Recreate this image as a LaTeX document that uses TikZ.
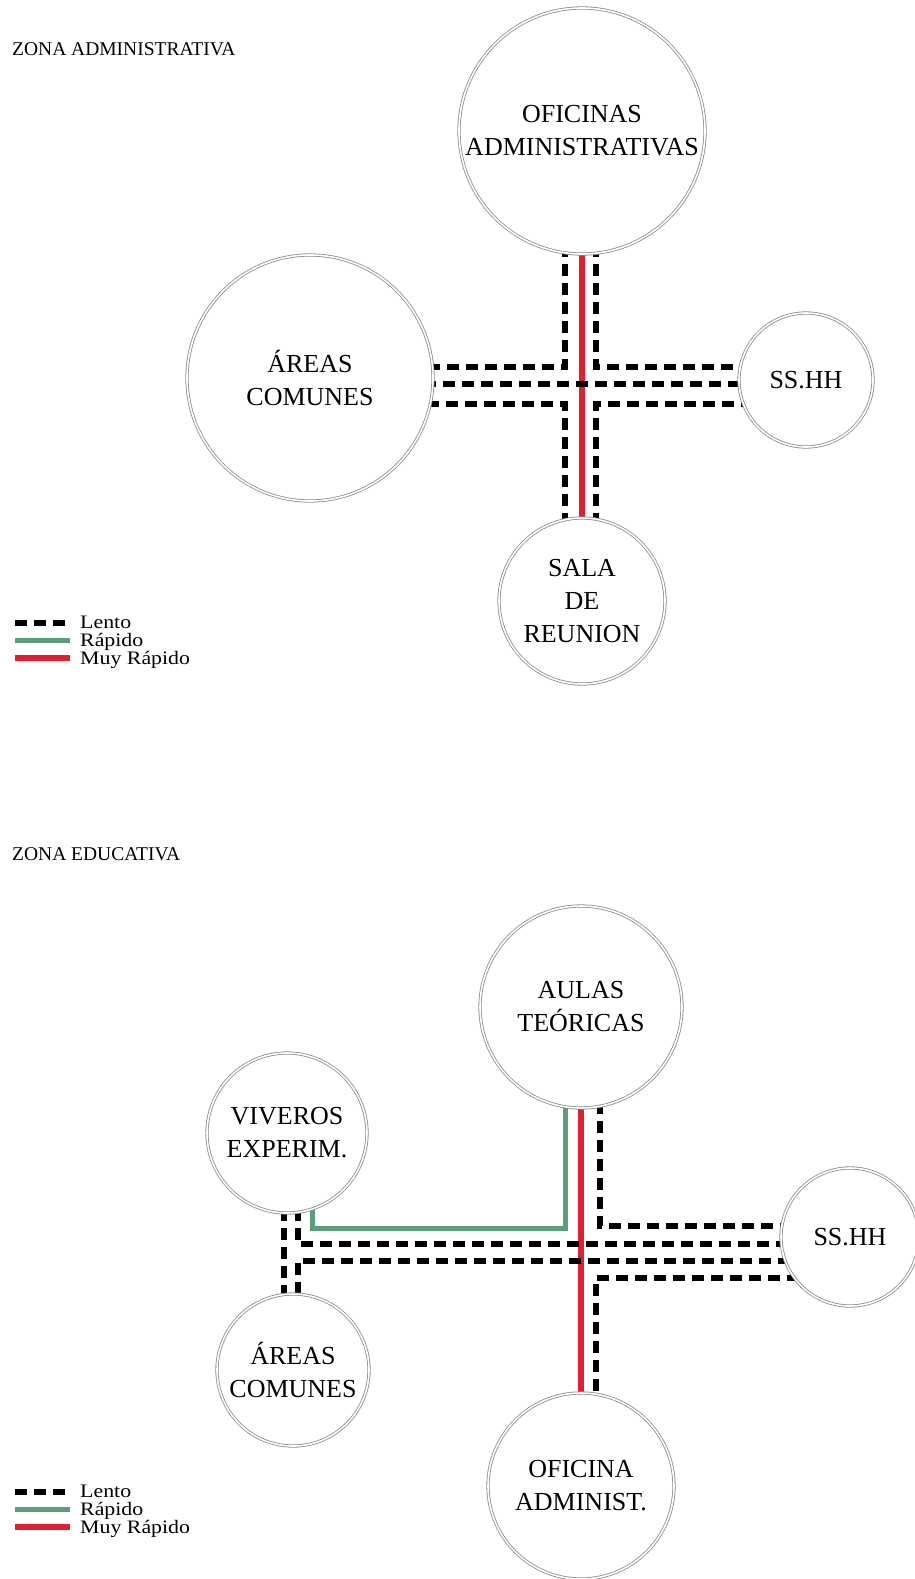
\documentclass[tikz,border=0pt]{standalone}
\usepackage{fontspec}
\setmainfont{Liberation Serif}
\newfontfamily\leyendafont[FakeStretch=1.15]{Liberation Serif}
\usepackage{xcolor}
\usepackage{tikz}
\usetikzlibrary{positioning, calc, backgrounds}
\definecolor{corRapido}{RGB}{92,158,122}
\definecolor{corMuyRapido}{RGB}{222,32,48}
\definecolor{corBorde}{RGB}{140,140,140}

\begin{document}
\begin{tikzpicture}[x=1pt, y=-1pt, every node/.style={font=\fontsize{26}{33}\selectfont}]
    \tikzstyle{espacio}=[circle, draw=corBorde, line width=0.8pt, double=white,
      double distance=1.6pt, fill=white, inner sep=0pt, align=center]
    \tikzstyle{lento}=[line width=5.5pt, dash pattern=on 12pt off 7pt]
    \tikzstyle{rapido}=[line width=5pt, draw=corRapido]
    \tikzstyle{muyrapido}=[line width=5.5pt, draw=corMuyRapido]
    \tikzstyle{titulo}=[anchor=base west, inner sep=0pt, font=\fontsize{19.5}{22}\selectfont]
    \tikzstyle{leyenda}=[anchor=base west, inner sep=0pt, text height=12pt, text depth=2pt,
      font=\leyendafont\fontsize{19}{20}\selectfont]
    \useasboundingbox (0,0) rectangle (915,1579);

    % zona administrativa
    \node[titulo] (za) at (12,56) {ZONA ADMINISTRATIVA};
    \node[espacio, minimum size=246pt] (ofi) at (582,131) {OFICINAS\\ADMINISTRATIVAS};
    \node[espacio, minimum size=246pt] (areas) at (310,378) {ÁREAS\\COMUNES};
    \node[espacio, minimum size=134pt] (sshh) at (806,380) {SS.HH};
    \node[espacio, minimum size=166pt] (sala) at (582,601) {SALA\\DE\\REUNION};

    % zona educativa
    \node[titulo] (ze) at (12,860) {ZONA EDUCATIVA};
    \node[espacio, minimum size=202pt] (aulas) at (581,1007) {AULAS\\TEÓRICAS};
    \node[espacio, minimum size=160pt] (viveros) at (287,1133) {VIVEROS\\EXPERIM.};
    \node[espacio, minimum size=138pt] (sshhb) at (850,1237) {SS.HH};
    \node[espacio, minimum size=152pt] (areasb) at (293,1370) {ÁREAS\\COMUNES};
    \node[espacio, minimum size=186pt] (ofib) at (581,1486) {OFICINA\\ADMINIST.};

    \begin{scope}[on background layer]
      \draw[muyrapido] (ofi) -- (sala);
      \draw[lento] ($(ofi)+(-17,0)$) |- ($(areas)+(0,-11)$);
      \draw[lento] ($(ofi)+(14,0)$) |- ($(sshh)+(0,-13)$);
      \draw[lento] ($(areas)+(0,6)$) -- ($(sshh)+(0,4)$);
      \draw[lento] ($(sala)+(-17,0)$) |- ($(areas)+(0,26)$);
      \draw[lento] ($(sala)+(14,0)$) |- ($(sshh)+(0,24)$);

      \draw[rapido] ($(aulas)+(-16,0)$) |- ($(viveros)+(25,95)$) -- ($(viveros)+(25,0)$);
      \draw[muyrapido] (aulas) -- (ofib);
      \draw[lento] ($(aulas)+(19,0)$) |- ($(sshhb)+(0,-11)$);
      \draw[lento] ($(viveros)+(-3,0)$) -- ($(areasb)+(-9,0)$);
      \draw[lento] ($(viveros)+(11,0)$) |- ($(sshhb)+(0,7)$);
      \draw[lento] ($(areasb)+(5,0)$) |- ($(sshhb)+(0,24)$);
      \draw[lento] ($(ofib)+(15,0)$) |- ($(sshhb)+(0,41)$);
    \end{scope}

    % leyendas
    \foreach \d in {0,869} {
      \draw[lento] (15,623+\d) -- (70,623+\d);
      \draw[rapido] (15,640+\d) -- (70,640+\d);
      \draw[muyrapido] (15,658+\d) -- (70,658+\d);
      \node[leyenda] (lento\d) at (80,628+\d) {Lento};
      \node[leyenda] (rapido\d) at (80,646+\d) {Rápido};
      \node[leyenda] (muyrapido\d) at (80,664+\d) {Muy Rápido};
    }
\end{tikzpicture}
\end{document}
